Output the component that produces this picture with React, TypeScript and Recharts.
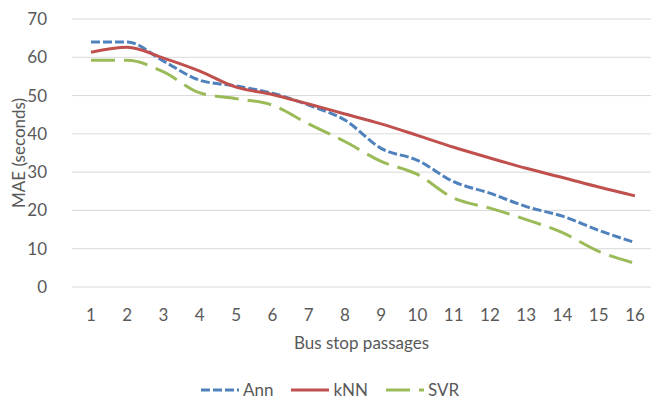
// MAE per bus stop passage for three regressors (Ann / kNN / SVR).

import { LineChart, Line, XAxis, YAxis, CartesianGrid } from 'recharts';

const passages = ['1', '2', '3', '4', '5', '6', '7', '8', '9', '10', '11', '12', '13', '14', '15', '16'];
const ann = [64, 64, 59, 54, 52.5, 50.6, 47.5, 43.6, 36.2, 33.1, 27.5, 24.5, 21, 18.5, 14.8, 11.6];
const knn = [61.3, 62.6, 59.8, 56.4, 52.2, 50.3, 47.8, 45.2, 42.6, 39.6, 36.5, 33.7, 31, 28.6, 26.1, 23.8];
const svr = [59.2, 59.2, 56.2, 50.7, 49.2, 47.5, 42.6, 38, 32.8, 29.4, 23.2, 20.6, 17.6, 14.2, 9.3, 6.2];
const yTicks = [0, 10, 20, 30, 40, 50, 60, 70];

const data = passages.map((p, i) => ({ passage: p, ann: ann[i], knn: knn[i], svr: svr[i] }));

const FONT = 'Lato, "Open Sans", sans-serif';
const TEXT = '#595959';

const SERIES = [
  { key: 'ann', name: 'Ann', color: '#4F81BD', dash: '9 3' },
  { key: 'knn', name: 'kNN', color: '#C0504D', dash: undefined },
  { key: 'svr', name: 'SVR', color: '#9BBB59', dash: '24 9' },
];

// legend drawn as an overlay so it doesn't shrink the plot area
function LegendRow() {
  return (
    <div
      style={{
        position: 'absolute',
        left: 201,
        top: 380,
        display: 'flex',
        gap: 18,
        fontFamily: FONT,
        fontSize: 17,
        color: TEXT,
        lineHeight: '20px',
      }}
    >
      {SERIES.map((s) => (
        <div key={s.key} style={{ display: 'flex', alignItems: 'center', gap: 4 }}>
          <svg width={38} height={10}>
            <line x1={0} y1={5} x2={38} y2={5} stroke={s.color} strokeWidth={3} strokeDasharray={s.dash} />
          </svg>
          <span>{s.name}</span>
        </div>
      ))}
    </div>
  );
}

export default function App() {
  return (
    <div style={{ position: 'absolute', left: 0, top: 0, width: 651, height: 401, background: '#fff' }}>
      <LineChart width={651} height={401} data={data} margin={{ top: 19, right: 0, bottom: 0, left: 0 }}>
        <CartesianGrid stroke="#d9d9d9" strokeWidth={1} vertical={false} />
        <XAxis
          dataKey="passage"
          axisLine={false}
          tickLine={false}
          padding={{ left: 19, right: 16 }}
          tick={{ fill: TEXT, fontSize: 17, fontFamily: FONT }}
          tickMargin={16}
          height={114}
          label={{ value: 'Bus stop passages', position: 'insideTop', offset: 50, fill: TEXT, fontSize: 17, fontFamily: FONT }}
        />
        <YAxis
          domain={[0, 70]}
          ticks={yTicks}
          axisLine={false}
          tickLine={false}
          width={72}
          tickMargin={19}
          tick={{ fill: TEXT, fontSize: 17, fontFamily: FONT }}
          label={{ value: 'MAE (seconds)', angle: -90, position: 'insideLeft', offset: 19, fill: TEXT, fontSize: 17, fontFamily: FONT, style: { textAnchor: 'middle' } }}
        />
        {SERIES.map((s) => (
          <Line
            key={s.key}
            type="monotone"
            dataKey={s.key}
            name={s.name}
            stroke={s.color}
            strokeWidth={3}
            strokeDasharray={s.dash}
            dot={false}
            isAnimationActive={false}
          />
        ))}
      </LineChart>
      <LegendRow />
    </div>
  );
}
